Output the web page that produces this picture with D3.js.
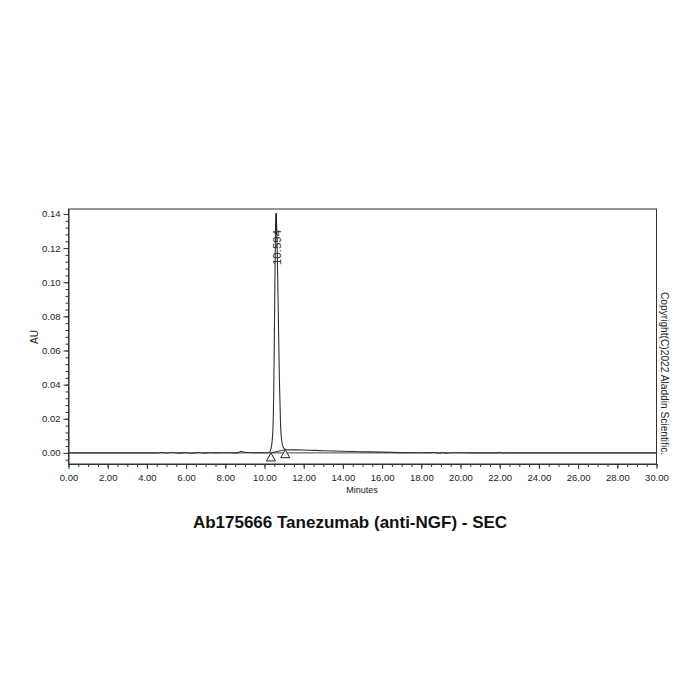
<!DOCTYPE html>
<html>
<head>
<meta charset="utf-8">
<script src="https://cdn.jsdelivr.net/npm/d3@7"></script>
<style>
  body { margin: 0; background: #fff; }
  svg text { font-family: "Liberation Sans", Arial, sans-serif; }
</style>
</head>
<body>
<div id="chart"></div>
<script>
// Chromatogram trace (minutes, AU)
const times = [0, 4.5, 4.8, 5.0, 5.3, 5.6, 6.0, 6.3, 6.6, 6.9, 7.2, 7.5, 7.9, 8.5, 8.7, 8.8, 8.9, 9.1,
  10.0, 10.25, 10.33, 10.38, 10.43, 10.47, 10.50, 10.53, 10.56, 10.594, 10.62, 10.65, 10.69, 10.72,
  10.76, 10.82, 10.88, 10.95, 11.05, 11.2, 12.0, 13.0, 14.0, 15.0, 16.5, 18.0, 18.7, 18.9, 19.1,
  19.3, 19.5, 20.5, 21.9, 22.0, 22.1, 22.3, 30.0];
const absorb = [0, 0, 0.0002, -0.0001, 0.0002, -0.0001, 0.0001, -0.0002, 0.0002, -0.0001, 0.0001, 0, 0.0001,
  0, 0.0003, 0.0009, 0.0006, 0.0002,
  0.0001, 0.0004, 0.0023, 0.006, 0.014, 0.035, 0.065, 0.100, 0.128, 0.140, 0.133, 0.118, 0.092, 0.070,
  0.043, 0.016, 0.007, 0.0035, 0.0022, 0.0018, 0.0017, 0.0013, 0.001, 0.0007, 0.0003, 0.0001, 0.0002,
  -0.0002, 0.0002, -0.0002, 0.0001, 0, 0, 0.0003, -0.0001, 0, 0];

// Peak table
const peakTimes = [10.594];
const peakHeights = [0.1405];
const peakLabels = ["10.594"];
// Integration start / end marks
const markTimes = [10.33, 11.06];
const markValues = [0.0000, 0.0019];

const xTicks = d3.range(0, 30.01, 2);
const yTicks = d3.range(0, 0.1401, 0.02);

const title = "Ab175666 Tanezumab (anti-NGF) - SEC";
const copyright = "Copyright(C)2022 Aladdin Scientific.";

let margin = {top: 209, left: 68.5};
let width = 588, height = 255;

let svg = d3.select("#chart").append("svg")
    .attr("width", 700)
    .attr("height", 700);

let g = svg.append("g")
    .attr("transform", `translate(${margin.left},${margin.top})`);

let xScale = d3.scaleLinear().domain([0, 30]).range([0, width]);
let yScale = d3.scaleLinear().domain([-0.0065, 0.1429]).range([height, 0]);

// zero line
g.append("line")
    .attr("x1", 0).attr("x2", width)
    .attr("y1", yScale(0)).attr("y2", yScale(0))
    .attr("stroke", "#444").attr("stroke-width", 1);

// trace
let data = times.map((t, i) => ({t: t, v: absorb[i]}));
let line = d3.line()
    .x(d => xScale(d.t))
    .y(d => yScale(d.v))
    .curve(d3.curveMonotoneX);

g.append("path")
    .datum(data)
    .attr("fill", "none")
    .attr("stroke", "#333")
    .attr("stroke-width", 1.1)
    .attr("d", line);

// integration baseline
g.append("line")
    .attr("x1", xScale(markTimes[0])).attr("y1", yScale(markValues[0]))
    .attr("x2", xScale(markTimes[1])).attr("y2", yScale(markValues[1]))
    .attr("stroke", "#333").attr("stroke-width", 1);

// start / end triangles
g.selectAll(".mark")
    .data(markTimes)
    .enter().append("path")
    .attr("class", "mark")
    .attr("transform", (d, i) => `translate(${xScale(d)},${yScale(markValues[i])})`)
    .attr("d", "M0,0 L4.5,8 L-4.5,8 Z")
    .attr("fill", "#fff")
    .attr("stroke", "#222")
    .attr("stroke-width", 1);

// apex marker and label
peakTimes.forEach((t, i) => {
    let px = xScale(t), py = yScale(peakHeights[i]);
    g.append("line")
        .attr("x1", px).attr("x2", px)
        .attr("y1", py).attr("y2", py + 22)
        .attr("stroke", "#222").attr("stroke-width", 1.6);
    g.append("text")
        .attr("transform", `translate(${px + 4.5},${py + 52}) rotate(-90)`)
        .attr("font-size", "11.5px")
        .attr("fill", "#333")
        .text(peakLabels[i]);
});

// frame
g.append("rect")
    .attr("width", width).attr("height", height)
    .attr("fill", "none")
    .attr("stroke", "#333").attr("stroke-width", 1);

// axes
let xAxis = g.append("g")
    .attr("transform", `translate(0,${height})`)
    .call(d3.axisBottom(xScale).tickValues(xTicks).tickFormat(d3.format(".2f")).tickSize(5).tickSizeOuter(0));
g.append("g")
    .attr("transform", `translate(0,${height})`)
    .call(d3.axisBottom(xScale).tickValues(d3.range(0, 30.01, 0.5)).tickFormat("").tickSize(3).tickSizeOuter(0))
    .select(".domain").remove();

let yAxis = g.append("g")
    .call(d3.axisLeft(yScale).tickValues(yTicks).tickFormat(d3.format(".2f")).tickSize(5).tickSizeOuter(0));
g.append("g")
    .call(d3.axisLeft(yScale).tickValues(d3.range(-0.004, 0.1421, 0.004)).tickFormat("").tickSize(3).tickSizeOuter(0))
    .select(".domain").remove();

g.selectAll(".tick line").attr("stroke", "#333");
g.selectAll(".domain").attr("stroke", "#333");
xAxis.selectAll("text").attr("font-size", "9.5px").attr("fill", "#222").attr("dy", "0.9em");
yAxis.selectAll("text").attr("font-size", "9.5px").attr("fill", "#222");

// axis titles
svg.append("text")
    .attr("transform", "translate(38,337) rotate(-90)")
    .attr("text-anchor", "middle")
    .attr("font-size", "10px")
    .attr("fill", "#222")
    .text("AU");

svg.append("text")
    .attr("x", 362).attr("y", 493)
    .attr("text-anchor", "middle")
    .attr("font-size", "9px")
    .attr("fill", "#222")
    .text("Minutes");

svg.append("text")
    .attr("x", 350).attr("y", 528)
    .attr("text-anchor", "middle")
    .attr("font-size", "17px")
    .attr("font-weight", "bold")
    .attr("fill", "#111")
    .text(title);

svg.append("text")
    .attr("transform", "translate(661,292) rotate(90)")
    .attr("font-size", "10.2px")
    .attr("fill", "#222")
    .text(copyright);
</script>
</body>
</html>
